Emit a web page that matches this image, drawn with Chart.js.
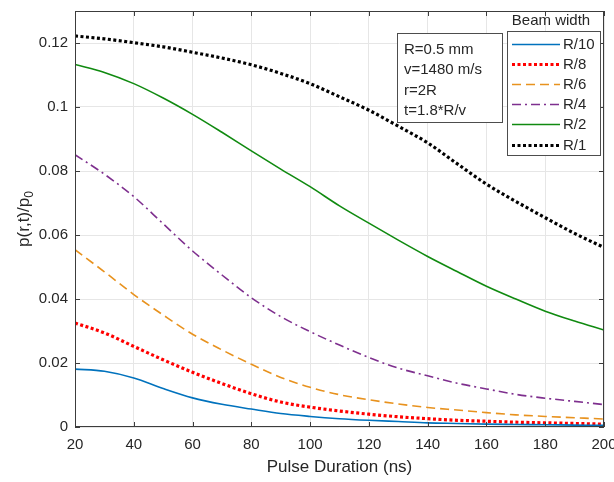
<!DOCTYPE html>
<html>
<head>
<meta charset="utf-8">
<script src="https://cdn.jsdelivr.net/npm/chart.js@4"></script>
<style>
  html, body { margin: 0; padding: 0; background: #fff; }
  #wrap { width: 614px; height: 482px; }
</style>
</head>
<body>
<div id="wrap"><canvas id="myChart" width="614" height="482"></canvas></div>
<script>
// pulse duration (ns)
const durations = [20, 30, 40, 50, 60, 70, 80, 90, 100, 110, 120, 130, 140, 150, 160, 170, 180, 190, 200];

// normalised pressure p(r,t)/p0 for each beam width
const beamR10 = [0.0181, 0.0174, 0.0153, 0.0120, 0.0091, 0.0071, 0.0056, 0.0042, 0.0033, 0.0026, 0.0021, 0.0017, 0.0013, 0.0011, 0.0009, 0.0008, 0.0007, 0.0006, 0.0005];
const beamR8  = [0.0325, 0.0294, 0.0252, 0.0210, 0.0171, 0.0136, 0.0104, 0.0078, 0.0062, 0.0050, 0.0040, 0.0032, 0.0026, 0.0021, 0.0018, 0.0015, 0.0013, 0.0011, 0.0009];
const beamR6  = [0.0554, 0.0485, 0.0414, 0.0350, 0.0290, 0.0241, 0.0196, 0.0155, 0.0124, 0.0101, 0.0085, 0.0072, 0.0061, 0.0053, 0.0045, 0.0038, 0.0033, 0.0029, 0.0025];
const beamR4  = [0.0851, 0.0790, 0.0720, 0.0635, 0.0550, 0.0475, 0.0404, 0.0345, 0.0298, 0.0256, 0.0217, 0.0184, 0.0160, 0.0137, 0.0119, 0.0102, 0.0090, 0.0080, 0.0070];
const beamR2  = [0.1133, 0.1108, 0.1073, 0.1028, 0.0977, 0.0921, 0.0863, 0.0806, 0.0751, 0.0691, 0.0637, 0.0584, 0.0533, 0.0486, 0.0440, 0.0400, 0.0362, 0.0331, 0.0303];
const beamR1  = [0.1222, 0.1213, 0.1201, 0.1188, 0.1171, 0.1153, 0.1132, 0.1105, 0.1073, 0.1032, 0.0990, 0.0940, 0.0888, 0.0823, 0.0759, 0.0705, 0.0654, 0.0605, 0.0561];

const xTicks = [20, 40, 60, 80, 100, 120, 140, 160, 180, 200];
const yTicks = [0, 0.02, 0.04, 0.06, 0.08, 0.1, 0.12];
const yTickLabels = ['0', '0.02', '0.04', '0.06', '0.08', '0.1', '0.12'];

const seriesNames = ['R/10', 'R/8', 'R/6', 'R/4', 'R/2', 'R/1'];
const paramLines = ['R=0.5 mm', 'v=1480 m/s', 'r=2R', 't=1.8*R/v'];

const FONT = '"Liberation Sans", Arial, sans-serif';
const TEXT = '#262626';
const AXIS = '#3c3c3c';

function pts(vals) {
    return durations.map((x, i) => ({ x: x, y: vals[i] }));
}

const styles = [
    { color: '#0072bd', width: 1.6, dash: [] },
    { color: '#ff0000', width: 3.2, dash: [3, 2.5] },
    { color: '#e8921e', width: 1.6, dash: [9, 5] },
    { color: '#7e2f8e', width: 1.6, dash: [9, 4, 2, 4] },
    { color: '#108a10', width: 1.6, dash: [] },
    { color: '#000000', width: 3.2, dash: [3, 2.5] }
];
const allSeries = [beamR10, beamR8, beamR6, beamR4, beamR2, beamR1];

const datasets = allSeries.map((vals, i) => ({
    label: seriesNames[i],
    data: pts(vals),
    borderColor: styles[i].color,
    borderWidth: styles[i].width,
    borderDash: styles[i].dash,
    borderCapStyle: 'butt',
    pointRadius: 0,
    fill: false,
    cubicInterpolationMode: 'monotone'
}));

// no extra room for overhanging end labels, the frame fills the canvas
function noOverhang(scale) {
    scale.paddingLeft = 0;
    scale.paddingRight = 0;
    scale.paddingTop = 0;
    scale.paddingBottom = 0;
}

// frame with inward ticks, y title with subscript, legend and parameter box
const decorations = {
    id: 'decorations',
    afterDatasetsDraw(chart) {
        const ctx = chart.ctx;
        const a = chart.chartArea;
        const xs = chart.scales.x, ys = chart.scales.y;
        ctx.save();

        // axes box
        ctx.strokeStyle = AXIS;
        ctx.lineWidth = 1;
        ctx.setLineDash([]);
        ctx.strokeRect(a.left + 0.5, a.top + 0.5, a.right - a.left - 1, a.bottom - a.top - 1);

        // inward ticks on all four sides
        const tl = 5;
        ctx.beginPath();
        xTicks.forEach(v => {
            const px = Math.round(xs.getPixelForValue(v)) + 0.5;
            ctx.moveTo(px, a.bottom); ctx.lineTo(px, a.bottom - tl);
            ctx.moveTo(px, a.top); ctx.lineTo(px, a.top + tl);
        });
        yTicks.forEach(v => {
            const py = Math.round(ys.getPixelForValue(v)) + 0.5;
            ctx.moveTo(a.left, py); ctx.lineTo(a.left + tl, py);
            ctx.moveTo(a.right, py); ctx.lineTo(a.right - tl, py);
        });
        ctx.stroke();

        // y axis title p(r,t)/p0
        ctx.fillStyle = TEXT;
        ctx.translate(24, (a.top + a.bottom) / 2);
        ctx.rotate(-Math.PI / 2);
        const main = 'p(r,t)/p';
        ctx.font = '17px ' + FONT;
        const w1 = ctx.measureText(main).width;
        ctx.font = '12px ' + FONT;
        const w2 = ctx.measureText('0').width;
        const start = -(w1 + w2) / 2;
        ctx.font = '17px ' + FONT;
        ctx.textBaseline = 'middle';
        ctx.textAlign = 'left';
        ctx.fillText(main, start, 0);
        ctx.font = '12px ' + FONT;
        ctx.fillText('0', start + w1, 6);
        ctx.setTransform(1, 0, 0, 1, 0, 0);

        // parameter text box
        ctx.fillStyle = '#fff';
        ctx.fillRect(397, 33, 105, 89);
        ctx.strokeStyle = '#4d4d4d';
        ctx.strokeRect(397.5, 33.5, 105, 89);
        ctx.fillStyle = TEXT;
        ctx.font = '15px ' + FONT;
        ctx.textAlign = 'left';
        ctx.textBaseline = 'middle';
        paramLines.forEach((t, i) => ctx.fillText(t, 404, 50 + i * 20.2));

        // legend
        ctx.fillStyle = '#fff';
        ctx.fillRect(507, 31, 93, 124);
        ctx.strokeStyle = '#4d4d4d';
        ctx.strokeRect(507.5, 31.5, 93, 124);
        ctx.fillStyle = TEXT;
        ctx.textAlign = 'center';
        ctx.fillText('Beam width', 551, 21);
        chart.data.datasets.forEach((ds, i) => {
            const y = Math.round(43.5 + i * 20.2) + 0.5;
            ctx.strokeStyle = ds.borderColor;
            ctx.lineWidth = ds.borderWidth;
            ctx.setLineDash(ds.borderDash);
            ctx.lineCap = 'butt';
            ctx.beginPath();
            ctx.moveTo(512, y);
            ctx.lineTo(560, y);
            ctx.stroke();
            ctx.setLineDash([]);
            ctx.fillStyle = TEXT;
            ctx.textAlign = 'left';
            ctx.fillText(ds.label, 563, y);
        });
        ctx.restore();
    }
};

const ctx = document.getElementById('myChart').getContext('2d');
new Chart(ctx, {
    type: 'line',
    data: { datasets: datasets },
    options: {
        responsive: false,
        animation: false,
        layout: { padding: { top: 11, right: 10, left: 0, bottom: 0 } },
        plugins: {
            legend: { display: false },
            tooltip: { enabled: false },
            title: { display: false }
        },
        scales: {
            x: {
                type: 'linear',
                min: 20,
                max: 200,
                afterFit: scale => { scale.height = 55; noOverhang(scale); },
                afterBuildTicks: scale => { scale.ticks = xTicks.map(v => ({ value: v })); },
                border: { display: false },
                grid: { color: '#e6e6e6', lineWidth: 1, drawTicks: false },
                ticks: {
                    color: TEXT,
                    padding: 9,
                    maxRotation: 0,
                    font: { family: FONT, size: 15 },
                    callback: value => String(value)
                },
                title: {
                    display: true,
                    text: 'Pulse Duration (ns)',
                    color: TEXT,
                    font: { family: FONT, size: 17 },
                    padding: { top: 2 }
                }
            },
            y: {
                type: 'linear',
                min: 0,
                max: 0.13,
                afterFit: scale => { scale.width = 75; noOverhang(scale); },
                afterBuildTicks: scale => { scale.ticks = yTicks.map(v => ({ value: v })); },
                border: { display: false },
                grid: { color: '#e6e6e6', lineWidth: 1, drawTicks: false },
                ticks: {
                    color: TEXT,
                    padding: 7,
                    font: { family: FONT, size: 15 },
                    callback: (value, index) => yTickLabels[index]
                }
            }
        }
    },
    plugins: [decorations]
});
</script>
</body>
</html>
